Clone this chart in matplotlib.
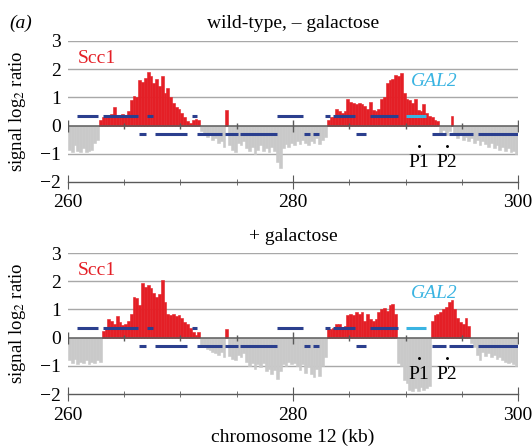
import numpy as np
import matplotlib.pyplot as plt

plt.rcParams['font.family'] = ['Liberation Serif', 'DejaVu Serif']
plt.rcParams['mathtext.fontset'] = 'stix'

# signal log2 ratio, 0.25 kb bins starting at 260 kb
bin_start = 260.0
bin_kb = 0.25

signal_minus_gal = [
    -0.85, -0.95, -0.7, -0.9, -0.95, -0.8, -0.95, -0.9, -0.85, -0.6,
    -0.5, 0.2, 0.3, 0.3, 0.35, 0.4, 0.65, 0.3, 0.35, 0.4,
    0.35, 0.5, 0.9, 1.05, 1.0, 1.6, 1.55, 1.7, 1.9, 1.75,
    1.5, 1.65, 1.4, 1.75, 1.15, 1.35, 1.0, 0.8, 0.65, 0.6,
    0.45, 0.3, 0.15, 0.1, 0.2, 0.25, 0.2, -0.2, -0.25, -0.4,
    -0.35, -0.5, -0.45, -0.6, -0.55, -0.75, 0.55, -0.7, -0.85, -0.95,
    -0.6, -0.7, -0.55, -0.8, -0.9, -0.75, -1.0, -0.85, -0.7, -0.9,
    -0.8, -0.95, -0.75, -0.9, -1.3, -1.5, -0.8, -0.65, -0.75, -0.6,
    -0.7, -0.55, -0.65, -0.5, -0.6, -0.7, -0.55, -0.6, -0.45, -0.65,
    -0.5, -0.4, 0.2, 0.3, 0.3, 0.6, 0.5, 0.45, 0.5, 0.95,
    0.85, 0.8, 0.75, 0.8, 0.75, 0.7, 0.6, 0.85, 0.55, 0.5,
    0.6, 0.95, 1.0, 1.5, 1.6, 1.65, 1.8, 1.75, 1.85, 1.15,
    0.95, 0.9, 0.8, 0.95, 0.55, 0.5, 0.75, 0.45, 0.35, 0.3,
    0.2, 0.15, -0.3, -0.15, -0.35, -0.2, 0.35, -0.3, -0.45, -0.35,
    -0.5, -0.4, -0.55, -0.45, -0.6, -0.5, -0.7, -0.55, -0.65, -0.75,
    -0.6, -0.8, -0.7, -0.85, -0.75, -0.9, -0.8, -0.95, -0.9, -1.0,
]

signal_plus_gal = [
    -0.8, -0.9, -0.75, -0.95, -0.85, -0.9, -0.8, -0.95, -0.85, -0.9,
    -0.8, -0.85, 0.25, 0.3, 0.65, 0.6, 0.5, 0.75, 0.55, 0.45,
    0.5, 0.6, 0.85, 1.45, 1.4, 1.15, 1.95, 1.8, 1.85, 1.75,
    1.6, 1.45, 1.55, 2.05, 1.25, 0.85, 0.8, 0.85, 0.75, 0.8,
    0.7, 0.55, 0.5, 0.35, 0.2, 0.1, 0.2, -0.35, -0.3, -0.4,
    -0.45, -0.5, -0.55, -0.6, -0.5, -0.7, 0.3, -0.65, -0.75, -0.8,
    -0.6, -0.7, -0.55, -0.85, -1.0, -0.9, -1.1, -0.95, -1.05, -0.9,
    -1.2, -1.1, -1.3, -1.15, -1.45, -1.2, -0.95, -1.0, -0.85, -0.95,
    -0.9, -1.0, -1.15, -0.95, -1.25, -1.05, -1.3, -1.4, -1.1, -1.35,
    -1.0, -0.7, 0.3, 0.3, 0.35, 0.5, 0.5, 0.35, 0.4, 0.8,
    0.85, 0.8, 0.9, 0.85, 0.9, 0.6, 0.85, 0.65, 0.6, 0.65,
    0.9, 1.0, 1.05, 0.95, 1.15, 1.2, 0.85, -0.9, -1.0, -1.5,
    -1.6, -1.85, -1.9, -1.8, -1.9, -1.75, -1.85, -1.8, -1.7, 0.6,
    0.8, 0.85, 0.9, 1.0, 1.1, 1.25, 1.35, 1.0, 0.7, 0.55,
    0.5, 0.7, 0.4, -0.2, -0.35, -0.6, -0.8, -0.5, -0.65, -0.55,
    -0.7, -0.6, -0.75, -0.7, -0.8, -0.85, -0.9, -0.85, -0.95, -1.0,
]

# genes (kb start, kb end)
genes_upper = [(260.77, 262.64), (263.08, 266.19), (267.0, 267.6), (271.0, 271.5),
               (278.6, 280.9), (282.8, 283.3), (283.55, 285.5), (286.8, 289.3)]
gal2_gene = (290.0, 291.8)
genes_lower = [(266.3, 266.9), (267.7, 270.6), (271.5, 273.7), (274.0, 275.1),
               (275.3, 278.6), (281.0, 281.5), (281.8, 282.3), (285.6, 286.5),
               (292.35, 293.6), (293.9, 296.0), (296.4, 300.0)]
primer_kb = [291.2, 293.7]
primer_names = ["P1", "P2"]

panel_titles = ["wild-type, \u2013 galactose", "+ galactose"]
panel_signals = [signal_minus_gal, signal_plus_gal]

red = "#e41f26"
grey = "#c9c9c9"
blue = "#2b3f8e"
cyan = "#3ab4e2"
axis_grey = "#5a5a5a"
fs = 14

fig = plt.figure(figsize=(5.32, 4.48), dpi=100)
ax_top = fig.add_axes([0.1278, 0.5938, 0.8459, 0.3147])
ax_bot = fig.add_axes([0.1278, 0.1205, 0.8459, 0.3147])

for ax, signal, title in zip([ax_top, ax_bot], panel_signals, panel_titles):
    signal = np.array(signal)
    x = bin_start + np.arange(len(signal)) * bin_kb
    colors = [red if v > 0 else grey for v in signal]

    for y in [1, 2, 3, -1]:
        ax.axhline(y, color="#a8a8a8", lw=1.0, zorder=0)

    ax.bar(x, signal, width=bin_kb, align="edge", color=colors,
           edgecolor=colors, linewidth=0.4, zorder=1)

    ax.axhline(0, color=axis_grey, lw=1.1, zorder=3)
    ax.plot([265, 270, 275, 285, 290, 295], [0] * 6, "|", color=axis_grey,
            markersize=5, mew=1.0, zorder=3)
    ax.plot([260, 280, 300], [0] * 3, "|", color=axis_grey,
            markersize=9, mew=1.0, zorder=3)

    for start, end in genes_upper:
        ax.plot([start, end], [0.33, 0.33], color=blue, lw=2.2,
                solid_capstyle="butt", zorder=4)
    for start, end in genes_lower:
        ax.plot([start, end], [-0.3, -0.3], color=blue, lw=2.2,
                solid_capstyle="butt", zorder=4)
    ax.plot(gal2_gene, [0.33, 0.33], color=cyan, lw=2.2,
            solid_capstyle="butt", zorder=4)

    ax.plot(primer_kb, [-0.72, -0.72], "o", color="black", markersize=1.1, zorder=4)
    for kb, name in zip(primer_kb, primer_names):
        ax.text(kb, -1.32, name, ha="center", va="center", fontsize=fs)

    ax.text(260.9, 2.38, "Scc1", color=red, fontsize=fs, ha="left", va="center")
    ax.text(290.5, 1.55, "GAL2", color=cyan, fontsize=fs, style="italic",
            ha="left", va="center")

    ax.set_xlim(260, 300)
    ax.set_ylim(-2, 3)
    ax.set_yticks([3, 2, 1, 0, -1, -2])
    ax.set_yticklabels(["3", "2", "1", "0", "\u22121", "\u22122"])
    ax.set_xticks([260, 280, 300])
    ax.set_xticks([265, 270, 275, 285, 290, 295], minor=True)
    ax.tick_params(axis="y", length=0, pad=5, labelsize=fs)
    ax.tick_params(axis="x", which="major", direction="inout", length=10,
                   color=axis_grey, labelsize=fs, pad=4)
    ax.tick_params(axis="x", which="minor", direction="inout", length=5,
                   color=axis_grey)
    for side in ["top", "right", "left"]:
        ax.spines[side].set_visible(False)
    ax.spines["bottom"].set_color(axis_grey)
    ax.spines["bottom"].set_linewidth(1.0)

    ax.set_ylabel("signal log$_2$ ratio", fontsize=13.5)
    ax.yaxis.set_label_coords(-0.088, 0.5)
    ax.set_title(title, fontsize=fs, pad=9)

ax_bot.set_xlabel("chromosome 12 (kb)", fontsize=fs, labelpad=4)
fig.text(0.038, 0.948, "(a)", fontsize=fs, style="italic", ha="center", va="center")

fig.savefig("out.png", dpi=100)
